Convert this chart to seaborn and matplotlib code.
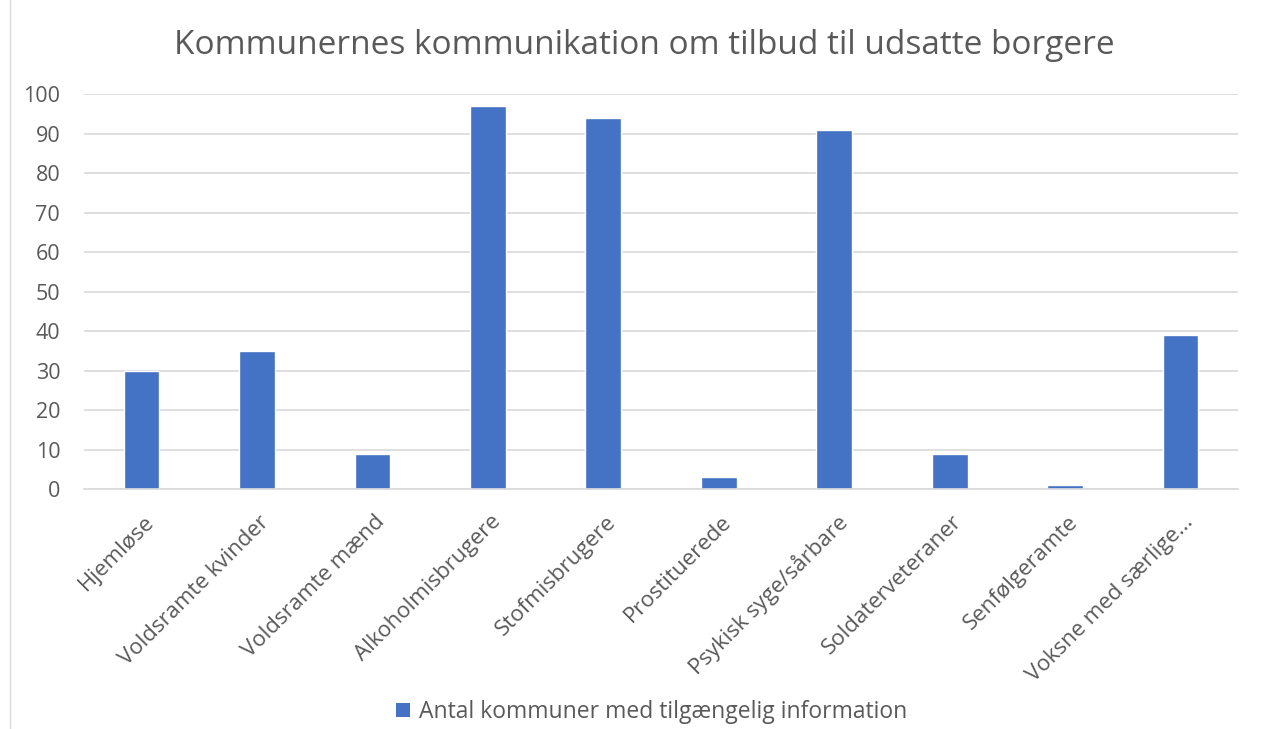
import matplotlib
matplotlib.use("Agg")
import matplotlib.pyplot as plt
import matplotlib.transforms as mtransforms
import seaborn as sns
import pandas as pd
from matplotlib.patches import Patch

categories = ["Hjemløse", "Voldsramte kvinder", "Voldsramte mænd", "Alkoholmisbrugere",
              "Stofmisbrugere", "Prostituerede", "Psykisk syge/sårbare",
              "Soldaterveteraner", "Senfølgeramte", "Voksne med særlige..."]
values = [30, 35, 9, 97, 94, 3, 91, 9, 1, 39]
series_name = "Antal kommuner med tilgængelig information"
title = "Kommunernes kommunikation om tilbud til udsatte borgere"
yticks = [0, 10, 20, 30, 40, 50, 60, 70, 80, 90, 100]

sns.set_theme(style="white")
plt.rcParams['font.family'] = ['Open Sans', 'DejaVu Sans']

df = pd.DataFrame({"cat": categories, "val": values})

fig = plt.figure(figsize=(12.7, 7.29), dpi=100)
ax = fig.add_axes([0.066, 0.329, 0.909, 0.542])
sns.barplot(data=df, x="cat", y="val", color="#4472C4", width=0.31, saturation=1, ax=ax)

ax.set_ylim(0, 100)
ax.set_yticks(yticks)
ax.set_xlim(-0.5, len(categories) - 0.5)
ax.yaxis.grid(True, color="#D9D9D9", linewidth=1.2)
ax.set_axisbelow(True)
for s in ["top", "right", "left"]:
    ax.spines[s].set_visible(False)
ax.spines["bottom"].set_color("#D9D9D9")
ax.spines["bottom"].set_linewidth(1.2)
ax.set_xlabel("")
ax.set_ylabel("")
ax.tick_params(axis="y", labelsize=15.5, labelcolor="#595959", length=0, pad=17)
ax.tick_params(axis="x", labelsize=16, labelcolor="#595959", length=0, pad=16)
offset = mtransforms.ScaledTranslation(2 / 100, 0, fig.dpi_scale_trans)
for lbl in ax.get_xticklabels():
    lbl.set_rotation(45)
    lbl.set_ha("right")
    lbl.set_rotation_mode("anchor")
    lbl.set_transform(lbl.get_transform() + offset)

fig.text(0.507, 0.938, title, ha="center", va="center", fontsize=24, color="#595959")

handle = Patch(facecolor="#4472C4", edgecolor="none")
fig.legend([handle], [series_name], loc="center", bbox_to_anchor=(0.513, 0.023),
           frameon=False, fontsize=16.5, labelcolor="#595959", handlelength=0.6,
           handleheight=0.6, handletextpad=0.4)

fig.add_artist(plt.Line2D([0.008, 0.008], [0.0, 1.0], color="#D9D9D9", linewidth=1))

fig.savefig("out.png", dpi=100)
